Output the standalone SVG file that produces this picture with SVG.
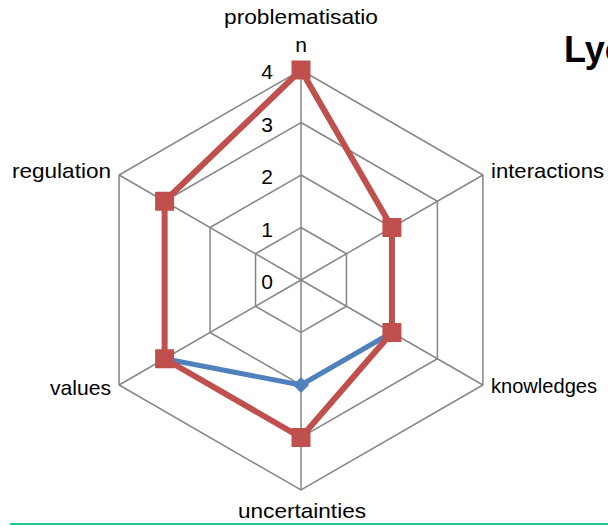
<svg xmlns="http://www.w3.org/2000/svg" width="608" height="526" viewBox="0 0 608 526">
<defs>
<style>
.grid{fill:none;stroke:#868686;stroke-width:1.5}
.lbl{font-family:"Liberation Sans",Arial,sans-serif;font-size:21px;fill:#000}
.tick{font-family:"Liberation Sans",Arial,sans-serif;font-size:21px;fill:#000;text-anchor:end}
.red{fill:none;stroke:#C0504D;stroke-width:6;stroke-linejoin:round}
.blue{fill:none;stroke:#4F81BD;stroke-width:5;stroke-linejoin:round}
.sq{fill:#C0504D}
.dm{fill:#4F81BD}
</style>
</defs>
<rect width="608" height="526" fill="#fff"/>
<g id="grid">
<polygon class="grid" points="301,227.5 346.47,253.75 346.47,306.25 301,332.5 255.53,306.25 255.53,253.75"/>
<polygon class="grid" points="301,175 391.93,227.5 391.93,332.5 301,385 210.07,332.5 210.07,227.5"/>
<polygon class="grid" points="301,122.5 437.4,201.25 437.4,358.75 301,437.5 164.6,358.75 164.6,201.25"/>
<polygon class="grid" points="301,70 482.87,175 482.87,385 301,490 119.13,385 119.13,175"/>
<path class="grid" d="M301,280V70M301,280L482.87,175M301,280L482.87,385M301,280V490M301,280L119.13,385M301,280L119.13,175"/>
</g>
<g id="ticks">
<text class="tick" x="273" y="79">4</text>
<text class="tick" x="273" y="132">3</text>
<text class="tick" x="273" y="184">2</text>
<text class="tick" x="273" y="237">1</text>
<text class="tick" x="273" y="289">0</text>
</g>
<g id="connectors">
<polyline class="blue" points="301,70 391.93,227.5 391.93,332.5 301,385 164.6,358.75 164.6,201.25 301,70"/>
<polygon class="red" points="301,70 391.93,227.5 391.93,332.5 301,437.5 164.6,358.75 164.6,201.25"/>
</g>
<g id="series-blue">
<path class="dm" d="M301,377l8,8l-8,8l-8,-8z"/>
</g>
<g id="series-red">
<rect class="sq" x="291.5" y="60.5" width="19" height="19"/>
<rect class="sq" x="382.43" y="218" width="19" height="19"/>
<rect class="sq" x="382.43" y="323" width="19" height="19"/>
<rect class="sq" x="291.5" y="428" width="19" height="19"/>
<rect class="sq" x="155.1" y="349.25" width="19" height="19"/>
<rect class="sq" x="155.1" y="191.75" width="19" height="19"/>
</g>
<g id="node-problematisation">
<text class="lbl" x="301" y="24" text-anchor="middle" textLength="154" lengthAdjust="spacingAndGlyphs">problematisatio</text>
<text class="lbl" x="301" y="52" text-anchor="middle">n</text>
</g>
<g id="node-interactions"><text class="lbl" x="491" y="178" textLength="113" lengthAdjust="spacingAndGlyphs">interactions</text></g>
<g id="node-knowledges"><text class="lbl" x="491" y="393" textLength="106" lengthAdjust="spacingAndGlyphs">knowledges</text></g>
<g id="node-uncertainties"><text class="lbl" x="238" y="518" textLength="128" lengthAdjust="spacingAndGlyphs">uncertainties</text></g>
<g id="node-values"><text class="lbl" x="111" y="395" text-anchor="end" textLength="61" lengthAdjust="spacingAndGlyphs">values</text></g>
<g id="node-regulation"><text class="lbl" x="111" y="178" text-anchor="end" textLength="99" lengthAdjust="spacingAndGlyphs">regulation</text></g>
<text x="564" y="62" font-family="'Liberation Sans',Arial,sans-serif" font-size="36" font-weight="bold">Lyc</text>
<line x1="10" y1="524" x2="608" y2="524" stroke="#1FC98F" stroke-width="2"/>
</svg>
